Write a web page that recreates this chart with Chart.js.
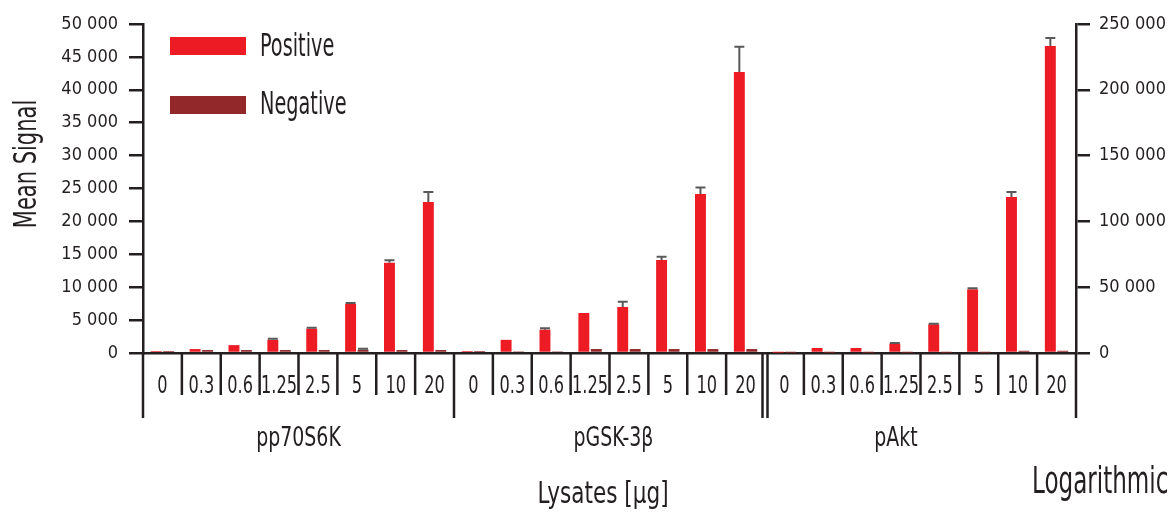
<!DOCTYPE html>
<html>
<head>
<meta charset="utf-8">
<script src="https://cdn.jsdelivr.net/npm/chart.js@4.4.1/dist/chart.umd.min.js"></script>
<style>
  html, body { margin: 0; padding: 0; background: #fff; }
  #wrap { position: relative; width: 1172px; height: 513px; }
</style>
</head>
<body>
<div id="wrap"><canvas id="chart"></canvas></div>
<script>
// ── Data ───────────────────────────────────────────────────────────────────
const doses   = ['0', '0.3', '0.6', '1.25', '2.5', '5', '10', '20'];
const targets = ['pp70S6K', 'pGSK-3β', 'pAkt'];

// pp70S6K + pGSK-3β use the left axis, pAkt the right one
const p70Positive    = [300, 600, 1200, 2000, 3700, 7450, 13700, 22950];
const p70Negative    = [300, 450, 450, 450, 450, 500, 450, 450];
const p70PositiveErr = [0, 0, 0, 150, 150, 150, 400, 1500];
const p70NegativeErr = [0, 0, 0, 0, 0, 150, 0, 0];

const gskPositive    = [300, 2000, 3550, 6080, 7000, 14130, 24160, 42700];
const gskNegative    = [300, 250, 250, 600, 600, 600, 600, 600];
const gskPositiveErr = [0, 0, 200, 0, 800, 500, 1000, 3850];

const aktPositive    = [300, 3800, 3800, 7100, 21800, 48400, 118500, 233300];
const aktNegative    = [300, 300, 300, 300, 300, 300, 1700, 1700];
const aktPositiveErr = [0, 0, 0, 500, 400, 800, 3800, 6000];

const leftTicks  = { min: 0, max: 50000, step: 5000 };
const rightTicks = { min: 0, max: 250000, step: 50000 };

// ── Style ──────────────────────────────────────────────────────────────────
const RED  = '#ED1C24';
const DARK = '#93282A';
const INK  = '#231F20';
const ERR  = '#58595B';
const FONT = "'DejaVu Sans Condensed', 'DejaVu Sans', sans-serif";

const none = doses.map(() => null);
const labels = [].concat(doses, doses, doses);
const spaced = v => String(v).replace(/\B(?=(\d{3})+(?!\d))/g, ' ');

// canvas text squeezed horizontally, the source uses a very narrow face
function text(ctx, str, x, y, size, align, squeeze) {
  ctx.save();
  ctx.translate(x, y);
  ctx.scale(squeeze || 1, 1);
  ctx.font = size + 'px ' + FONT;
  ctx.textAlign = align || 'left';
  ctx.textBaseline = 'alphabetic';
  ctx.fillStyle = INK;
  ctx.fillText(str, 0, 0);
  ctx.restore();
}

// error bars, dividers under the axis, dose + group names, legend, titles
const decorations = {
  id: 'decorations',
  afterDatasetsDraw(chart) {
    const ctx = chart.ctx;
    ctx.save();
    ctx.strokeStyle = ERR;
    ctx.lineWidth = 2;
    chart.data.datasets.forEach((ds, i) => {
      if (!ds.errors) return;
      const meta = chart.getDatasetMeta(i);
      const scale = chart.scales[ds.yAxisID];
      meta.data.forEach((bar, k) => {
        const v = ds.data[k], e = ds.errors[k];
        if (v == null || !e) return;
        const top = scale.getPixelForValue(v + e);
        ctx.beginPath();
        ctx.moveTo(bar.x, bar.y);
        ctx.lineTo(bar.x, top);
        ctx.moveTo(bar.x - 5, top);
        ctx.lineTo(bar.x + 5, top);
        ctx.stroke();
      });
    });
    ctx.restore();
  },
  afterDraw(chart) {
    const ctx = chart.ctx;
    const xs = chart.scales.x;
    const area = chart.chartArea;
    const half = (xs.getPixelForValue(1) - xs.getPixelForValue(0)) / 2;
    const n = labels.length;

    ctx.save();
    ctx.strokeStyle = INK;
    ctx.lineWidth = 2.5;
    for (let i = 0; i <= n; i++) {
      const px = i < n ? xs.getPixelForValue(i) - half : xs.getPixelForValue(n - 1) + half;
      const groupEdge = i % doses.length === 0;
      const end = groupEdge ? area.bottom + 65 : area.bottom + 42;
      const xsAt = (i === 2 * doses.length) ? [px - 2.5, px + 2.5] : [px];
      xsAt.forEach(x => {
        ctx.beginPath();
        ctx.moveTo(x, area.bottom);
        ctx.lineTo(x, end);
        ctx.stroke();
      });
    }
    ctx.restore();

    // dose labels under each slot
    labels.forEach((l, i) => text(ctx, l, xs.getPixelForValue(i), area.bottom + 40, 25, 'center', 0.72));

    // group names
    const centres = [3.5, 11.6, 18.87];
    targets.forEach((t, g) => text(ctx, t, xs.getPixelForValue(centres[g]), 446, 27, 'center', 0.78));

    // legend
    ctx.fillStyle = RED;
    ctx.fillRect(170, 37, 76, 18);
    ctx.fillStyle = DARK;
    ctx.fillRect(170, 96, 76, 18);
    text(ctx, 'Positive', 260, 56, 32, 'left', 0.67);
    text(ctx, 'Negative', 260, 114, 32, 'left', 0.67);

    // axis titles
    ctx.save();
    ctx.translate(36, 164);
    ctx.rotate(-Math.PI / 2);
    text(ctx, 'Mean Signal', 0, 0, 32, 'center', 0.73);
    ctx.restore();
    text(ctx, 'Lysates [μg]', 603, 503, 30, 'center', 0.8);
    text(ctx, 'Logarithmic', 1032, 493, 38, 'left', 0.675);
  }
};

const tickFont = { family: FONT, size: 18 };

new Chart(document.getElementById('chart'), {
  type: 'bar',
  data: {
    labels,
    datasets: [
      { label: 'Positive', yAxisID: 'y', backgroundColor: RED,
        data: [...p70Positive, ...gskPositive, ...none],
        errors: [...p70PositiveErr, ...gskPositiveErr, ...none] },
      { label: 'Negative', yAxisID: 'y', backgroundColor: DARK,
        data: [...p70Negative, ...gskNegative, ...none],
        errors: [...p70NegativeErr, ...none, ...none] },
      { label: 'Positive', yAxisID: 'y2', backgroundColor: RED,
        data: [...none, ...none, ...aktPositive],
        errors: [...none, ...none, ...aktPositiveErr] },
      { label: 'Negative', yAxisID: 'y2', backgroundColor: DARK,
        data: [...none, ...none, ...aktNegative] },
    ]
  },
  options: {
    responsive: true,
    maintainAspectRatio: false,
    animation: false,
    layout: { padding: { top: 24, left: 0, right: 0, bottom: 0 } },
    datasets: {
      bar: { skipNull: true, categoryPercentage: 0.64, barPercentage: 0.88, borderWidth: 0 }
    },
    plugins: { legend: { display: false }, tooltip: { enabled: false } },
    scales: {
      x: {
        grid: { display: false, drawTicks: false },
        border: { display: true, color: INK, width: 2.5 },
        ticks: { display: false },
        afterFit: s => { s.height = 160; }
      },
      y: {
        position: 'left',
        min: leftTicks.min, max: leftTicks.max,
        grid: { drawOnChartArea: false, drawTicks: true, tickLength: 14, color: INK, lineWidth: 2.5 },
        border: { display: true, color: INK, width: 2.5 },
        ticks: { stepSize: leftTicks.step, color: INK, font: tickFont, padding: 11, callback: spaced },
        afterFit: s => { s.width = 143; }
      },
      y2: {
        position: 'right',
        min: rightTicks.min, max: rightTicks.max,
        grid: { drawOnChartArea: false, drawTicks: true, tickLength: 14, color: INK, lineWidth: 2.5 },
        border: { display: true, color: INK, width: 2.5 },
        ticks: { stepSize: rightTicks.step, color: INK, font: tickFont, padding: 9, callback: spaced },
        afterFit: s => { s.width = 96; }
      }
    }
  },
  plugins: [decorations]
});
</script>
</body>
</html>
